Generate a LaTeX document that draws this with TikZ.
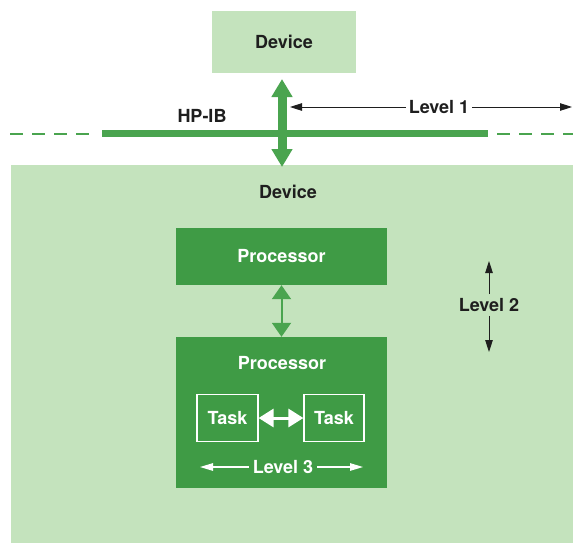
\documentclass[tikz,border=0pt]{standalone}
\usepackage{fontspec}
\setmainfont{TeX Gyre Heros}
\usetikzlibrary{arrows.meta}
\definecolor{lightg}{HTML}{C4E3BD}
\definecolor{darkg}{HTML}{3F9B45}
\definecolor{busg}{HTML}{4AA44F}
\definecolor{ink}{HTML}{1E1E1E}
\begin{document}
\begin{tikzpicture}[x=1pt,y=-1pt,
  lbl/.style={font=\fontsize{18}{20}\selectfont\bfseries, text=ink, inner sep=0pt},
  wlbl/.style={lbl, text=white},
  lightbox/.style={fill=lightg, inner sep=0pt, font=\fontsize{18}{20}\selectfont\bfseries, text=ink},
  darkbox/.style={fill=darkg, inner sep=0pt, font=\fontsize{18}{20}\selectfont\bfseries, text=white},
  taskbox/.style={draw=white, line width=1.2pt, inner sep=0pt, minimum height=47pt, font=\fontsize{18}{20}\selectfont\bfseries, text=white},
  bigtip/.tip={Triangle[width=20pt,length=18pt]},
  midtip/.tip={Triangle[width=19pt,length=14pt]},
  tasktip/.tip={Triangle[width=18pt,length=15pt]},
  thintip/.tip={Triangle[width=7.5pt,length=12pt]},
  wtip/.tip={Triangle[width=7.5pt,length=13pt]},
  dimline/.style={ink, line width=0.9pt},
  busdash/.style={busg, line width=2pt, dash pattern=on 13pt off 9pt}
]
\useasboundingbox (0,0) rectangle (573,542);
\fill[white] (0,0) rectangle (573,542);

% big device area
\node[lightbox, anchor=north west, minimum width=563pt, minimum height=378pt] (devbig) at (11,165) {};
\node[lbl] (devlbl) at (288,192) {Device};

% top device
\node[lightbox, minimum width=144pt, minimum height=62pt] (dev1) at (284,42) {\raisebox{-2pt}{Device}};

% bus
\coordinate (busL) at (102,133.5);
\coordinate (busR) at (488,133.5);
\draw[busg, line width=7pt] (busL) -- (busR);
\coordinate (dl1) at (10,133.5);
\coordinate (dl2) at (94,133.5);
\coordinate (dr1) at (497,133.5);
\coordinate (dr2) at (575,133.5);
\draw[busdash] (dl1) -- (dl2);
\draw[busdash] (dr1) -- (dr2);
\node[lbl] (hpib) at (202,116) {HP-IB};

% big bus arrow
\coordinate (bt) at (282,79);
\coordinate (bb) at (282,167);
\draw[busg, line width=9pt, bigtip-bigtip] (bt) -- (bb);

% Level 1
\node[lbl, inner xsep=3pt] (lev1) at (439,107) {Level 1};
\coordinate (l1a) at (290,107);
\coordinate (l1b) at (572,107);
\draw[dimline, -thintip] (lev1.west) -- (l1a);
\draw[dimline, -thintip] (lev1.east) -- (l1b);

% processors
\node[darkbox, minimum width=211pt, minimum height=57pt] (proc1) at (281.5,256.5) {Processor};
\node[darkbox, minimum width=211pt, minimum height=151pt] (proc2) at (281.5,412.5) {};
\node[wlbl] (proc2lbl) at (282,363) {Processor};
\draw[busg, line width=2pt, midtip-midtip] (proc1.south) -- (proc2.north);

% tasks
\node[taskbox, minimum width=61pt] (task1) at (227.5,418) {Task};
\node[taskbox, minimum width=60pt] (task2) at (334,418) {Task};
\draw[white, line width=3pt, tasktip-tasktip] (task1.east) -- (task2.west);

% Level 3
\node[wlbl, inner xsep=4pt] (lev3) at (283,467) {Level 3};
\coordinate (l3a) at (200,467);
\coordinate (l3b) at (363,467);
\draw[white, line width=1.2pt, -wtip] (lev3.west) -- (l3a);
\draw[white, line width=1.2pt, -wtip] (lev3.east) -- (l3b);

% Level 2
\node[lbl, inner ysep=4pt] (lev2) at (489,305) {Level 2};
\coordinate (l2a) at (489,261);
\coordinate (l2b) at (489,352);
\draw[dimline, -thintip] (lev2.north) -- (l2a);
\draw[dimline, -thintip] (lev2.south) -- (l2b);
\end{tikzpicture}
\end{document}
